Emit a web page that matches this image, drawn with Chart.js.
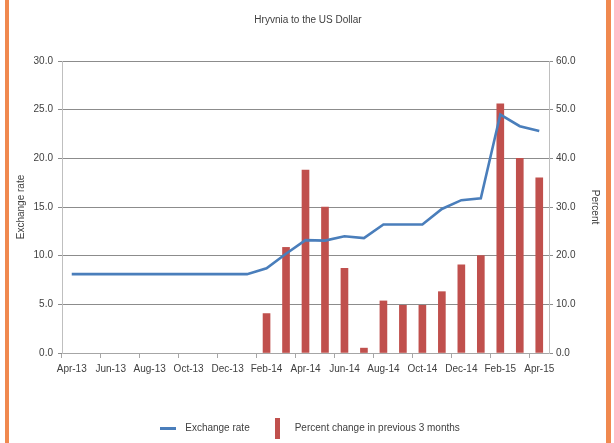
<!DOCTYPE html>
<html>
<head>
<meta charset="utf-8">
<script src="https://cdn.jsdelivr.net/npm/chart.js@4/dist/chart.umd.min.js"></script>
<style>
    html, body { margin: 0; padding: 0; background: #fff; }
    #wrap { position: relative; width: 614px; height: 443px; overflow: hidden; }
    .edge { position: absolute; top: 0; bottom: 0; width: 4px; background: #f0894f; }
    #edge-left { left: 5px; }
    #edge-right { left: 606px; width: 5px; }
</style>
</head>
<body>
<div id="wrap">
    <canvas id="chart" width="614" height="443"></canvas>
    <div class="edge" id="edge-left"></div>
    <div class="edge" id="edge-right"></div>
</div>
<script>
// Monthly, Apr-13 .. Apr-15
const months = [
    'Apr-13', 'May-13', 'Jun-13', 'Jul-13', 'Aug-13', 'Sep-13', 'Oct-13', 'Nov-13', 'Dec-13',
    'Jan-14', 'Feb-14', 'Mar-14', 'Apr-14', 'May-14', 'Jun-14', 'Jul-14', 'Aug-14', 'Sep-14',
    'Oct-14', 'Nov-14', 'Dec-14', 'Jan-15', 'Feb-15', 'Mar-15', 'Apr-15'
];

// Hryvnia per US dollar (left axis)
const exchangeRate = [
    8.1, 8.1, 8.1, 8.1, 8.1, 8.1, 8.1, 8.1, 8.1,
    8.1, 8.7, 10.2, 11.6, 11.55, 12.0, 11.8, 13.2, 13.2,
    13.2, 14.8, 15.7, 15.9, 24.5, 23.3, 22.8
];

// Percent change in previous 3 months (right axis)
const percentChange = [
    null, null, null, null, null, null, null, null, null,
    null, 8.1, 21.7, 37.6, 30.0, 17.4, 1.0, 10.7, 9.8,
    9.8, 12.6, 18.1, 20.0, 51.2, 40.0, 36.0
];

const leftTicks = [0, 5, 10, 15, 20, 25, 30];
const rightTicks = [0, 10, 20, 30, 40, 50, 60];

const BLUE = '#4a7ebb';
const RED = '#c0504d';
const GRID = '#8c8c8c';
const AXIS = '#bfbfbf';

Chart.defaults.font.family = "'Liberation Sans Narrow', 'Arial Narrow', 'Liberation Sans', sans-serif";
Chart.defaults.font.size = 10;
Chart.defaults.color = '#404040';

// Small canvases used as legend markers
function marker(w, h, color) {
    const c = document.createElement('canvas');
    c.width = w;
    c.height = h;
    const g = c.getContext('2d');
    g.fillStyle = color;
    g.fillRect(0, 0, w, h);
    return c;
}
const lineMarker = marker(16, 3, BLUE);
const barMarker = marker(5, 21, RED);

new Chart(document.getElementById('chart'), {
    data: {
        labels: months,
        datasets: [
            {
                type: 'line',
                label: 'Exchange rate',
                data: exchangeRate,
                yAxisID: 'y',
                borderColor: BLUE,
                backgroundColor: BLUE,
                borderWidth: 2.6,
                pointRadius: 0,
                tension: 0,
                pointStyle: lineMarker
            },
            {
                type: 'bar',
                label: 'Percent change in previous 3 months',
                data: percentChange,
                yAxisID: 'y1',
                backgroundColor: RED,
                barThickness: 7,
                pointStyle: barMarker
            }
        ]
    },
    options: {
        responsive: false,
        animation: false,
        devicePixelRatio: 1,
        layout: { padding: { left: 10, right: 8, top: 0, bottom: 0 } },
        plugins: {
            title: {
                display: true,
                text: 'Hryvnia to the US Dollar',
                font: { size: 10, weight: 'normal' },
                color: '#404040',
                padding: { top: 14, bottom: 35 }
            },
            legend: {
                position: 'bottom',
                labels: {
                    usePointStyle: true,
                    pointStyleWidth: 24,
                    padding: 16,
                    color: '#404040',
                    font: { size: 10 }
                }
            },
            tooltip: { enabled: false }
        },
        scales: {
            x: {
                offset: true,
                afterFit: (scale) => { scale.height = 54; },
                grid: {
                    offset: true,
                    drawOnChartArea: false,
                    tickLength: 5,
                    color: (ctx) => (ctx.index % 2 === 0 ? '#a6a6a6' : 'rgba(0,0,0,0)')
                },
                border: { color: '#a6a6a6' },
                ticks: {
                    autoSkip: false,
                    maxRotation: 0,
                    padding: 5,
                    callback: (v, i) => (i % 2 === 0 ? months[i] : '')
                }
            },
            y: {
                position: 'left',
                min: 0,
                max: 30,
                afterFit: (scale) => { scale.width = 52; },
                afterBuildTicks: (scale) => { scale.ticks = leftTicks.map(v => ({ value: v })); },
                grid: { color: GRID, tickLength: 4 },
                border: { color: AXIS },
                ticks: { padding: 5, callback: (v) => v.toFixed(1) },
                title: { display: true, text: 'Exchange rate', font: { size: 10 }, padding: { top: 5, bottom: 4 } }
            },
            y1: {
                position: 'right',
                min: 0,
                max: 60,
                afterFit: (scale) => { scale.width = 57; },
                afterBuildTicks: (scale) => { scale.ticks = rightTicks.map(v => ({ value: v })); },
                grid: { drawOnChartArea: false, color: GRID, tickLength: 4 },
                border: { color: AXIS },
                ticks: { padding: 3, callback: (v) => v.toFixed(1) },
                title: { display: true, text: 'Percent', font: { size: 10 }, padding: { top: 5, bottom: 4 } }
            }
        }
    }
});
</script>
</body>
</html>
